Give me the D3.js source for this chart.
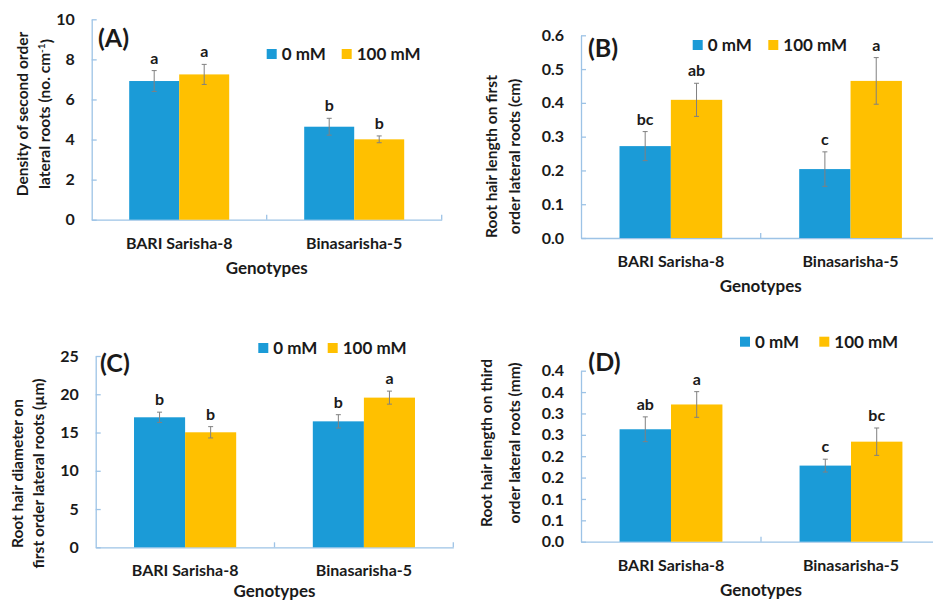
<!DOCTYPE html>
<html><head><meta charset="utf-8">
<script src="https://cdn.jsdelivr.net/npm/d3@7"></script>
<style>
body{margin:0;background:#fff;}
svg{display:block;}
text{font-family:Lato,"Open Sans",sans-serif;font-weight:bold;fill:#1a1a1a;}
</style></head><body>
<svg id="c" width="933" height="603"></svg>
<script>
// ---------- DATA ----------
const categories = ["BARI Sarisha-8", "Binasarisha-5"];
const seriesNames = ["0 mM", "100 mM"];

// (A) Density of second order lateral roots
const valuesA_0 = [6.92, 4.64];
const valuesA_100 = [7.25, 4.01];
const errA_0 = [0.52, 0.42];
const errA_100 = [0.50, 0.17];
const lettersA_0 = ["a", "b"];
const lettersA_100 = ["a", "b"];
const ticksA = [0, 2, 4, 6, 8, 10];
const tickLabelsA = ["0", "2", "4", "6", "8", "10"];

// (B) Root hair length on first order lateral roots
const valuesB_0 = [0.272, 0.204];
const valuesB_100 = [0.409, 0.465];
const errB_0 = [0.043, 0.051];
const errB_100 = [0.049, 0.069];
const lettersB_0 = ["bc", "c"];
const lettersB_100 = ["ab", "a"];
const ticksB = [0, 0.1, 0.2, 0.3, 0.4, 0.5, 0.6];
const tickLabelsB = ["0.0", "0.1", "0.2", "0.3", "0.4", "0.5", "0.6"];

// (C) Root hair diameter on first order lateral roots
const valuesC_0 = [16.99, 16.46];
const valuesC_100 = [15.03, 19.56];
const errC_0 = [0.67, 0.87];
const errC_100 = [0.74, 0.85];
const lettersC_0 = ["b", "b"];
const lettersC_100 = ["b", "a"];
const ticksC = [0, 5, 10, 15, 20, 25];
const tickLabelsC = ["0", "5", "10", "15", "20", "25"];

// (D) Root hair length on third order lateral roots
const valuesD_0 = [0.263, 0.178];
const valuesD_100 = [0.321, 0.234];
const errD_0 = [0.029, 0.015];
const errD_100 = [0.030, 0.032];
const lettersD_0 = ["ab", "c"];
const lettersD_100 = ["a", "bc"];
const ticksD = [0, 0.05, 0.1, 0.15, 0.2, 0.25, 0.3, 0.35, 0.4];
const tickLabelsD = ["0.0", "0.1", "0.1", "0.2", "0.2", "0.3", "0.3", "0.4", "0.4"];

const xTitle = "Genotypes";

// ---------- LAYOUT ----------
const colors = ["#1B9BD7", "#FFC000"];
const axisColor = "#9DC3E6";

const panels = [
  { tag: "(A)", v0: valuesA_0, v1: valuesA_100, e0: errA_0, e1: errA_100, l0: lettersA_0, l1: lettersA_100,
    ticks: ticksA, labels: tickLabelsA,
    title: [["Density of second order"], ["lateral roots (no. cm", {sup: "-1"}, ")"]],
    x0: 91.7, x1: 441.7, y0: 219.7, yTop: 19.3, gY: 54,
    tagX: 98, tagY: 47, legX: 266.7, legY: 49, leg2X: 341.7,
    tX1: 21.5, tX2: 44, tY: 114 },
  { tag: "(B)", v0: valuesB_0, v1: valuesB_100, e0: errB_0, e1: errB_100, l0: lettersB_0, l1: lettersB_100,
    ticks: ticksB, labels: tickLabelsB,
    title: [["Root hair length on first"], ["order lateral roots (cm)"]],
    x0: 581, x1: 940.4, y0: 238, yTop: 35.3, gY: 54,
    tagX: 588, tagY: 57, legX: 692.7, legY: 40, leg2X: 768.3,
    tX1: 491, tX2: 514, tY: 156.5 },
  { tag: "(C)", v0: valuesC_0, v1: valuesC_100, e0: errC_0, e1: errC_100, l0: lettersC_0, l1: lettersC_100,
    ticks: ticksC, labels: tickLabelsC,
    title: [["Root hair diameter on"], ["first order lateral roots (µm)"]],
    x0: 95.7, x1: 453.3, y0: 547.3, yTop: 356, gY: 50,
    tagX: 100, tagY: 372, legX: 258.3, legY: 343, leg2X: 327.7,
    tX1: 16.5, tX2: 38, tY: 473.5 },
  { tag: "(D)", v0: valuesD_0, v1: valuesD_100, e0: errD_0, e1: errD_100, l0: lettersD_0, l1: lettersD_100,
    ticks: ticksD, labels: tickLabelsD,
    title: [["Root hair length on third"], ["order lateral roots (mm)"]],
    x0: 581, x1: 941, y0: 541.7, yTop: 370.7, gY: 54,
    tagX: 588.3, tagY: 371, legX: 740, legY: 336.7, leg2X: 819.3,
    tX1: 486, tX2: 514, tY: 443 }
];

const svg = d3.select("#c");
svg.append("rect").attr("width", 933).attr("height", 603).attr("fill", "#fff");

panels.forEach(p => {
  const g = svg.append("g");
  const maxV = p.ticks[p.ticks.length - 1];
  const y = d3.scaleLinear().domain([0, maxV]).range([p.y0, p.yTop]);
  const x = d3.scaleBand().domain(categories).range([p.x0, p.x1]).padding(0);
  const xs = d3.scaleBand().domain(seriesNames).range([0, x.bandwidth()]).paddingInner(0).paddingOuter(0.75);

  // y axis
  const ya = g.append("g").attr("transform", `translate(${p.x0},0)`)
    .call(d3.axisLeft(y).tickValues(p.ticks).tickSizeInner(-5).tickSizeOuter(0).tickPadding(17)
      .tickFormat((d, i) => p.labels[i]));
  ya.select(".domain").attr("stroke", axisColor).attr("stroke-width", 1.3);
  ya.selectAll(".tick line").attr("stroke", axisColor).attr("stroke-width", 1.3);
  ya.selectAll(".tick text").attr("font-size", 16).attr("font-family", "Lato").attr("font-weight", "bold").attr("fill", "#1a1a1a");

  // x axis
  const xa = g.append("g").attr("transform", `translate(0,${p.y0})`)
    .call(d3.axisBottom(x).tickSize(0).tickSizeOuter(0));
  xa.select(".domain").attr("stroke", axisColor).attr("stroke-width", 1.3);
  xa.selectAll(".tick text").attr("dy", null).attr("y", 29)
    .attr("font-size", 16).attr("font-family", "Lato").attr("font-weight", "bold").attr("fill", "#1a1a1a");
  // category boundary ticks (pointing up)
  g.selectAll(".btick").data(categories).join("line")
    .attr("x1", d => x(d) + x.bandwidth()).attr("x2", d => x(d) + x.bandwidth())
    .attr("y1", p.y0).attr("y2", p.y0 - 5)
    .attr("stroke", axisColor).attr("stroke-width", 1.3);

  // bars
  const rows = [];
  categories.forEach((c, i) => {
    rows.push({ c, s: seriesNames[0], v: p.v0[i], e: p.e0[i], l: p.l0[i], k: 0 });
    rows.push({ c, s: seriesNames[1], v: p.v1[i], e: p.e1[i], l: p.l1[i], k: 1 });
  });
  g.selectAll(".bar").data(rows).join("rect")
    .attr("x", d => x(d.c) + xs(d.s)).attr("width", xs.bandwidth())
    .attr("y", d => y(d.v)).attr("height", d => y(0) - y(d.v))
    .attr("fill", d => colors[d.k]);

  // error bars
  const eb = g.selectAll(".eb").data(rows).join("g")
    .attr("transform", d => `translate(${x(d.c) + xs(d.s) + xs.bandwidth() / 2},0)`);
  eb.append("line").attr("y1", d => y(d.v + d.e)).attr("y2", d => y(d.v - d.e))
    .attr("stroke", "#808080").attr("stroke-width", 1);
  eb.append("line").attr("x1", -2.5).attr("x2", 2.5).attr("y1", d => y(d.v + d.e)).attr("y2", d => y(d.v + d.e))
    .attr("stroke", "#808080").attr("stroke-width", 1);
  eb.append("line").attr("x1", -2.5).attr("x2", 2.5).attr("y1", d => y(d.v - d.e)).attr("y2", d => y(d.v - d.e))
    .attr("stroke", "#808080").attr("stroke-width", 1);
  eb.append("text").attr("text-anchor", "middle").attr("y", d => y(d.v + d.e) - 7)
    .attr("font-size", 16).text(d => d.l);

  // panel tag
  g.append("text").attr("x", p.tagX).attr("y", p.tagY).attr("font-size", 25).text(p.tag);

  // legend
  [p.legX, p.leg2X].forEach((lx, k) => {
    g.append("rect").attr("x", lx).attr("y", p.legY).attr("width", 10).attr("height", 10).attr("fill", colors[k]);
    g.append("text").attr("x", lx + 15).attr("y", p.legY + 11).attr("font-size", 17).text(seriesNames[k]);
  });

  // y title
  [[p.tX1, p.title[0]], [p.tX2, p.title[1]]].forEach(([tx, parts]) => {
    const t = g.append("text").attr("transform", `translate(${tx},${p.tY}) rotate(-90)`)
      .attr("text-anchor", "middle").attr("dominant-baseline", "central").attr("font-size", 15.5);
    let shifted = false;
    parts.forEach(pt => {
      if (typeof pt === "string") {
        const s = t.append("tspan").text(pt);
        if (shifted) { s.attr("dy", "0.35em"); shifted = false; }
      } else {
        t.append("tspan").attr("dy", "-0.35em").attr("font-size", 10).text(pt.sup);
        shifted = true;
      }
    });
  });

  // x title
  g.append("text").attr("x", (p.x0 + x.bandwidth())).attr("y", p.y0 + p.gY)
    .attr("text-anchor", "middle").attr("font-size", 17).text(xTitle);
});
</script>
</body></html>
